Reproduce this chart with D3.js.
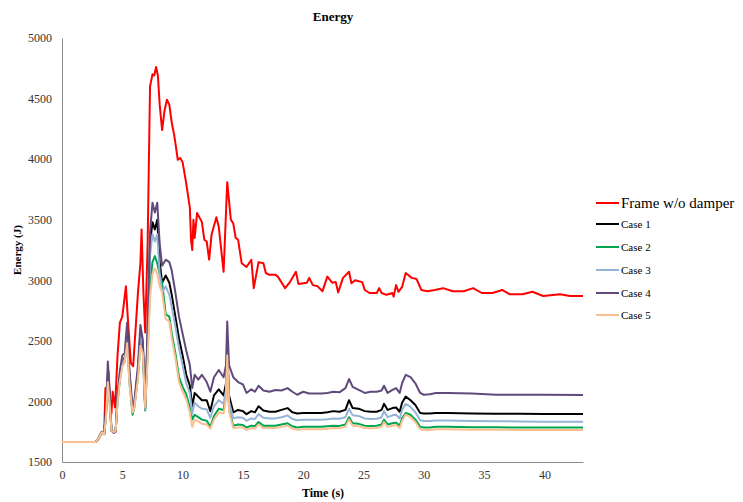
<!DOCTYPE html>
<html>
<head>
<meta charset="utf-8">
<script src="https://cdn.jsdelivr.net/npm/d3@7"></script>
<style>
  html, body { margin: 0; padding: 0; background: #fff; }
  svg { display: block; }
  text { font-family: "Liberation Serif", "Times New Roman", serif; }
</style>
</head>
<body>
<svg id="chart" width="743" height="502"></svg>
<script>
// ---------- DATA ----------
const chartTitle = "Energy";
const xLabel = "Time (s)";
const yLabel = "Energy (J)";
const xTicks = [0, 5, 10, 15, 20, 25, 30, 35, 40];
const yTicks = [1500, 2000, 2500, 3000, 3500, 4000, 4500, 5000];
const seriesNames = ["Frame w/o damper", "Case 1", "Case 2", "Case 3", "Case 4", "Case 5"];

const timeFrame = [0, 2.8, 3.0, 3.3, 3.5, 3.6, 3.75, 3.85, 3.95, 4.1, 4.2, 4.4, 4.6, 4.8, 5.0, 5.3, 5.45, 5.7, 5.9,
  6.3, 6.5, 6.6, 6.75, 6.9, 7.1, 7.3, 7.5, 7.65, 7.8, 7.95, 8.1, 8.3, 8.5, 8.7, 8.9, 9.1, 9.3, 9.4, 9.6, 9.8,
  10.0, 10.3, 10.6, 10.7, 10.8, 10.9, 11.0, 11.2, 11.6, 11.8, 12.0, 12.2, 12.4, 12.8, 13.0, 13.4, 13.7, 14.0,
  14.2, 14.4, 14.6, 14.9, 15.3, 15.7, 15.9, 16.3, 16.7, 16.9, 17.2, 17.7, 17.9, 18.5, 18.9, 19.4, 19.6, 20.3,
  20.5, 20.8, 21.2, 21.6, 22.0, 22.4, 22.7, 22.9, 23.3, 23.8, 24.0, 24.3, 24.9, 25.1, 25.5, 26.1, 26.3, 26.5,
  26.9, 27.4, 27.5, 27.7, 27.9, 28.2, 28.5, 29.0, 29.4, 29.8, 30.3, 30.9, 31.6, 32.4, 33.3, 34.1, 34.8, 35.7,
  36.5, 37.1, 38.2, 39.0, 39.9, 41.3, 42.1, 43.2];
const frame = [1665, 1665, 1690, 1750, 1740, 2110, 2000, 2250, 2050, 1900, 2080, 1950, 2370, 2650, 2700, 2950, 2700, 2320, 2290,
  2900, 3140, 3420, 2900, 2570, 3300, 4600, 4700, 4690, 4760, 4690, 4450, 4240, 4400, 4490, 4450, 4300, 4200, 4135, 3995, 4010,
  3975, 3800, 3600, 3330, 3250, 3500, 3350, 3555, 3480, 3335, 3320, 3170, 3375, 3520, 3440, 3070, 3810, 3500,
  3470, 3350, 3335, 3140, 3110, 3170, 2935, 3150, 3140, 3060, 3045, 3045, 3030, 2935, 2985, 3070, 2970, 2980,
  3020, 2960, 2950, 2910, 3030, 2980, 2985, 2900, 3020, 3070, 2975, 3000, 2985, 2920, 2895, 2895, 2935, 2895,
  2880, 2895, 2865, 2960, 2905, 2945, 3060, 3020, 3010, 2920, 2910, 2920, 2935, 2910, 2910, 2935, 2895, 2895,
  2920, 2885, 2885, 2905, 2870, 2885, 2870, 2870];

const timeCases = [0, 2.8, 3.0, 3.3, 3.5, 3.65, 3.8, 3.95, 4.1, 4.3, 4.45, 4.6, 4.8, 5.0, 5.2, 5.4, 5.6, 5.85, 6.0,
  6.3, 6.5, 6.7, 6.9, 7.1, 7.3, 7.5, 7.7, 7.9, 8.1, 8.3, 8.6, 8.9, 9.1, 9.4, 9.7, 10.0, 10.3, 10.6, 10.8, 11.0,
  11.3, 11.6, 12.0, 12.3, 12.6, 13.0, 13.4, 13.6, 13.7, 13.85, 14.2, 14.6, 15.0, 15.3, 15.7, 16.0, 16.3, 16.7,
  17.2, 17.7, 18.2, 18.7, 19.1, 19.5, 20.0, 20.5, 21.0, 21.5, 22.0, 22.5, 23.0, 23.5, 23.8, 24.1, 24.6, 25.1,
  25.6, 26.1, 26.5, 26.7, 27.0, 27.4, 27.7, 28.0, 28.2, 28.5, 28.9, 29.3, 29.7, 30.0, 30.5, 31.0, 32.0, 34.0,
  36.0, 38.0, 40.0, 43.2];
const case1 = [1665, 1665, 1690, 1745, 1730, 1920, 2220, 2050, 1760, 1745, 1760, 2020, 2220, 2330, 2360, 2560, 2200, 1920, 1980,
  2250, 2560, 2480, 1940, 2550, 3300, 3480, 3420, 3500, 3150, 2980, 3040, 2980, 2880, 2700, 2520, 2380, 2220, 2130, 1960, 2070,
  2040, 2010, 2010, 1920, 2050, 2100, 2050, 2150, 2450, 2050, 1910, 1930, 1920, 1895, 1920, 1910, 1960, 1925,
  1915, 1915, 1930, 1945, 1910, 1900, 1905, 1905, 1905, 1905, 1910, 1920, 1915, 1930, 2010, 1945, 1940, 1920,
  1915, 1915, 1930, 1980, 1930, 1945, 1950, 1915, 1990, 2040, 2010, 1970, 1905, 1900, 1900, 1905, 1905, 1900,
  1898, 1898, 1896, 1896];
const case2 = [1665, 1665, 1690, 1745, 1730, 1880, 2180, 2000, 1760, 1745, 1760, 1990, 2180, 2300, 2330, 2500, 2150, 1890, 1950,
  2200, 2480, 2420, 1925, 2400, 2950, 3150, 3200, 3140, 3050, 2980, 2720, 2700, 2560, 2400, 2200, 2120, 2060, 1950, 1850, 1890,
  1870, 1850, 1840, 1790, 1880, 1940, 1930, 2050, 2380, 1940, 1800, 1810, 1805, 1785, 1800, 1795, 1830, 1800,
  1800, 1800, 1810, 1820, 1795, 1785, 1790, 1790, 1790, 1790, 1795, 1800, 1798, 1810, 1870, 1820, 1815, 1800,
  1798, 1800, 1810, 1850, 1810, 1820, 1825, 1800, 1860, 1905, 1890, 1850, 1790, 1785, 1785, 1790, 1790, 1787,
  1786, 1785, 1785, 1785];
const case3 = [1665, 1665, 1690, 1745, 1730, 1900, 2200, 2030, 1760, 1745, 1760, 2000, 2200, 2320, 2350, 2530, 2180, 1910, 1970,
  2230, 2540, 2460, 1935, 2500, 3200, 3380, 3320, 3380, 3050, 2900, 2950, 2880, 2780, 2620, 2440, 2300, 2150, 2070, 1900, 1990,
  1960, 1940, 1935, 1865, 1960, 2010, 1980, 2100, 2420, 2000, 1860, 1870, 1865, 1840, 1860, 1855, 1895, 1865,
  1860, 1860, 1870, 1885, 1855, 1845, 1848, 1848, 1848, 1848, 1852, 1860, 1857, 1870, 1940, 1885, 1880, 1860,
  1855, 1857, 1870, 1920, 1870, 1885, 1890, 1858, 1930, 1980, 1955, 1910, 1845, 1838, 1838, 1842, 1842, 1838,
  1836, 1835, 1833, 1833];
const case4 = [1665, 1665, 1690, 1750, 1735, 1950, 2330, 2100, 1760, 1740, 1750, 2050, 2250, 2380, 2400, 2650, 2250, 1950, 2000,
  2300, 2630, 2510, 1950, 2600, 3400, 3640, 3560, 3640, 3300, 3120, 3170, 3150, 3080, 2900, 2700, 2560, 2420, 2300, 2110, 2220,
  2180, 2220, 2160, 2080, 2200, 2260, 2200, 2300, 2660, 2300, 2200, 2160, 2140, 2070, 2100, 2080, 2130, 2090,
  2080, 2095, 2090, 2110, 2080, 2055, 2080, 2065, 2065, 2065, 2070, 2080, 2075, 2110, 2185, 2120, 2095, 2070,
  2080, 2080, 2090, 2130, 2070, 2095, 2110, 2070, 2150, 2220, 2200, 2150, 2070, 2055, 2060, 2070, 2070, 2065,
  2055, 2055, 2055, 2053];
const case5 = [1665, 1665, 1690, 1745, 1730, 1870, 2160, 1990, 1760, 1745, 1760, 1980, 2170, 2290, 2320, 2480, 2140, 1910, 1950,
  2190, 2460, 2400, 1950, 2350, 2850, 3050, 3100, 3050, 2950, 2900, 2680, 2660, 2520, 2360, 2160, 2080, 2020, 1910, 1790, 1850,
  1835, 1815, 1810, 1775, 1850, 1910, 1900, 2020, 2380, 1920, 1780, 1785, 1785, 1765, 1780, 1775, 1810, 1780,
  1780, 1780, 1790, 1800, 1775, 1767, 1770, 1770, 1770, 1770, 1775, 1780, 1778, 1790, 1850, 1800, 1795, 1780,
  1778, 1780, 1790, 1830, 1790, 1800, 1805, 1780, 1840, 1890, 1870, 1830, 1770, 1765, 1765, 1770, 1770, 1767,
  1766, 1765, 1765, 1765];

const colors = ["#ff0000", "#000000", "#00a550", "#95b3d7", "#604a7b", "#fac090"];

// ---------- CHART ----------
const svg = d3.select("#chart");
const x = d3.scaleLinear().domain([0, 43.2]).range([62, 583]);
const y = d3.scaleLinear().domain([1500, 5000]).range([462, 38]);
const serif = "'Liberation Serif', 'Times New Roman', serif";

// title
svg.append("text").attr("x", 333).attr("y", 21).attr("text-anchor", "middle")
  .attr("font-size", 13).attr("font-weight", "bold").attr("fill", "#000").text(chartTitle);

// axes
const xAxis = d3.axisBottom(x).tickValues(xTicks).tickFormat(d3.format("d")).tickSize(0).tickPadding(8);
const gx = svg.append("g").attr("transform", `translate(0,${y(1500)})`).call(xAxis);
gx.select(".domain").attr("stroke", "#8c8c8c").attr("stroke-width", 1);
gx.selectAll("text").attr("font-size", 12).attr("fill", "#333").style("font-family", serif);

const yAxis = d3.axisLeft(y).tickValues(yTicks).tickFormat(d3.format("d")).tickSize(0).tickPadding(10);
const gy = svg.append("g").attr("transform", `translate(${x(0)},0)`).call(yAxis);
gy.select(".domain").attr("stroke", "#8c8c8c").attr("stroke-width", 1);
gy.selectAll("text").attr("font-size", 12).attr("fill", "#333").style("font-family", serif);

// axis labels
svg.append("text").attr("x", 323).attr("y", 497).attr("text-anchor", "middle")
  .attr("font-size", 12).attr("font-weight", "bold").text(xLabel);
svg.append("text").attr("transform", "translate(21,250) rotate(-90)").attr("text-anchor", "middle")
  .attr("font-size", 11).attr("font-weight", "bold").text(yLabel);

// series
const series = [
  {name: seriesNames[0], t: timeFrame, v: frame},
  {name: seriesNames[1], t: timeCases, v: case1},
  {name: seriesNames[2], t: timeCases, v: case2},
  {name: seriesNames[3], t: timeCases, v: case3},
  {name: seriesNames[4], t: timeCases, v: case4},
  {name: seriesNames[5], t: timeCases, v: case5}
];
const line = d3.line().x(d => x(d[0])).y(d => y(d[1])).curve(d3.curveLinear);
series.forEach((s, i) => {
  const pts = s.t.map((t, k) => [t, s.v[k]]);
  svg.append("path").datum(pts).attr("d", line).attr("fill", "none")
    .attr("stroke", colors[i]).attr("stroke-width", 2).attr("stroke-linejoin", "round");
});

// legend
const legY = [203, 224, 247, 270, 293, 315];
series.forEach((s, i) => {
  const g = svg.append("g");
  g.append("line").attr("x1", 596).attr("x2", 619).attr("y1", legY[i]).attr("y2", legY[i])
    .attr("stroke", colors[i]).attr("stroke-width", 2);
  g.append("text").attr("x", 621).attr("y", legY[i]).attr("dy", "0.35em")
    .attr("font-size", i === 0 ? 15 : 11).attr("fill", "#000").text(s.name);
});
</script>
</body>
</html>
